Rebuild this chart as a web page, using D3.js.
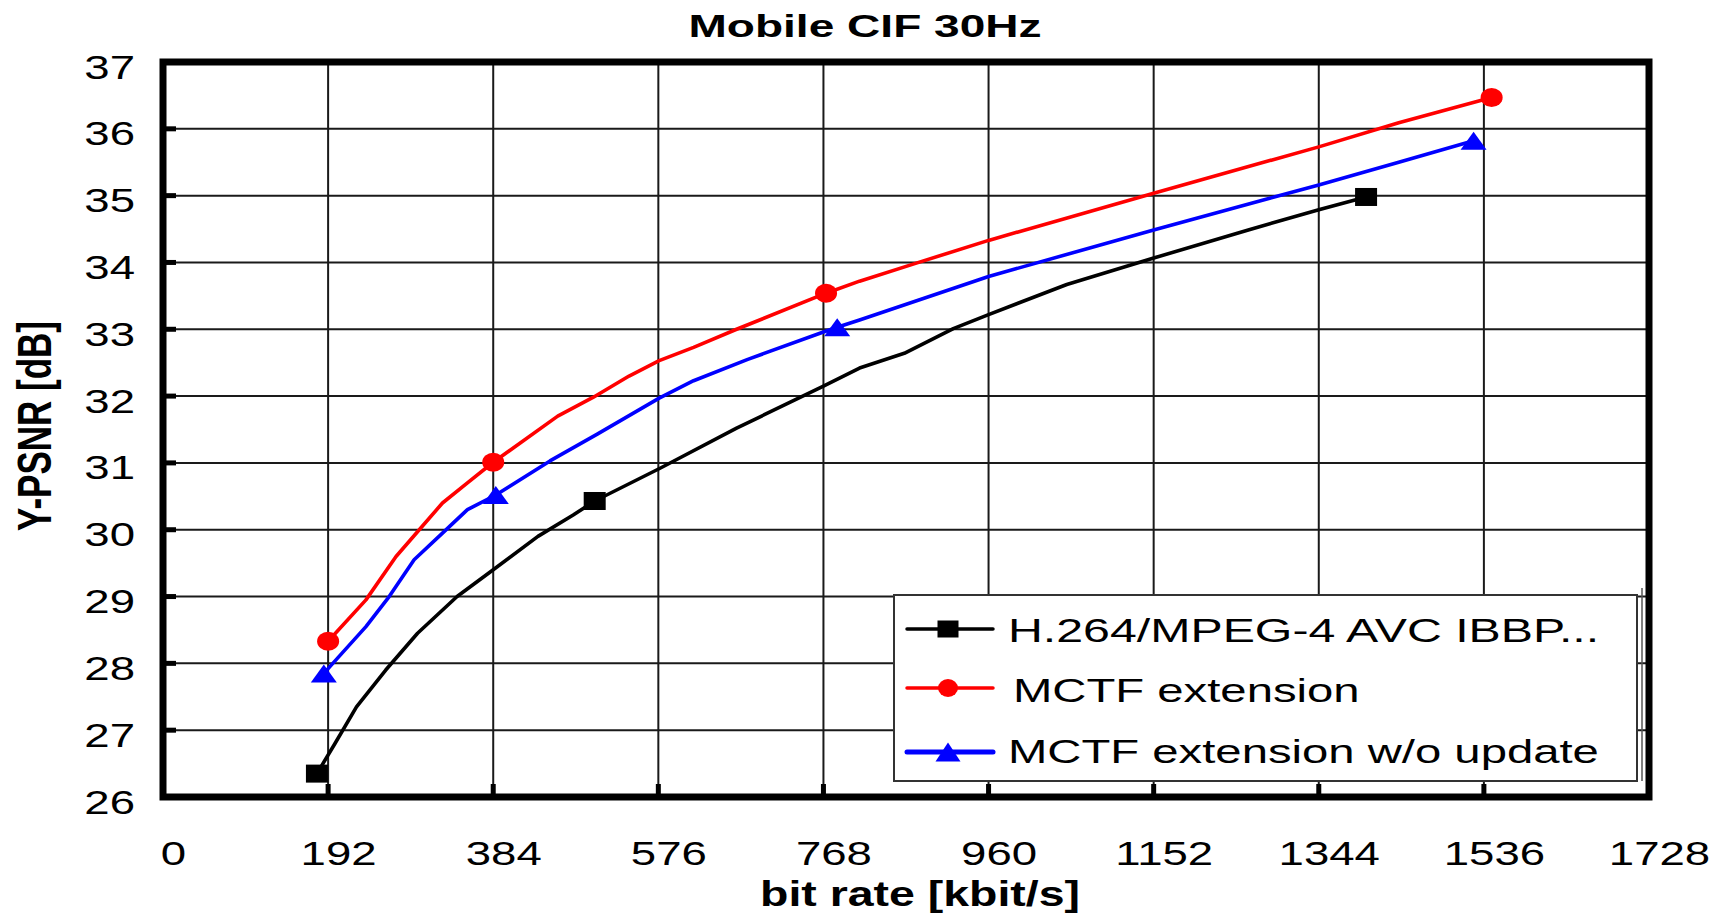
<!DOCTYPE html>
<html>
<head>
<meta charset="utf-8">
<script src="https://cdn.jsdelivr.net/npm/d3@7"></script>
<style>
  html, body { margin: 0; padding: 0; background: #fff; }
  svg { display: block; }
  text { font-family: "Liberation Sans", Arial, sans-serif; fill: #000; }
</style>
</head>
<body>
<svg id="chart" width="1726" height="916"></svg>
<script>
// ---------------- data ----------------
const chartTitle = "Mobile CIF 30Hz";
const xLabel = "bit rate [kbit/s]";
const yLabel = "Y-PSNR [dB]";
const xTicks = [0, 192, 384, 576, 768, 960, 1152, 1344, 1536, 1728];
const yTicks = [26, 27, 28, 29, 30, 31, 32, 33, 34, 35, 36, 37];
const seriesNames = ["H.264/MPEG-4 AVC IBBP...", "MCTF extension", "MCTF extension w/o update"];
const seriesColors = ["#000000", "#ff0000", "#0000ff"];
const seriesShapes = ["square", "circle", "triangle"];

// H.264/MPEG-4 AVC IBBP
const h264Rate = [179, 200, 225, 259, 296, 342, 384, 436, 477, 502, 578, 667, 768, 810, 862, 919, 960, 1051, 1153, 1263, 1344, 1399];
const h264Psnr = [26.35, 26.8, 27.35, 27.9, 28.45, 29.0, 29.4, 29.9, 30.22, 30.43, 30.92, 31.52, 32.15, 32.42, 32.64, 33.01, 33.22, 33.67, 34.07, 34.49, 34.79, 34.98];
const h264MarkRate = [179, 502, 1399];
const h264MarkPsnr = [26.35, 30.43, 34.98];

// MCTF extension
const mctfRate = [192, 236, 271, 300, 325, 354, 384, 459, 500, 542, 577, 617, 667, 771, 810, 876, 960, 1153, 1344, 1437, 1545];
const mctfPsnr = [28.33, 28.95, 29.6, 30.03, 30.4, 30.7, 31.01, 31.7, 31.98, 32.3, 32.53, 32.73, 33.0, 33.54, 33.72, 33.99, 34.33, 35.04, 35.73, 36.09, 36.47];
const mctfMarkRate = [192, 384, 771, 1545];
const mctfMarkPsnr = [28.33, 31.01, 33.54, 36.47];

// MCTF extension w/o update
const noUpdRate = [187, 236, 263, 292, 325, 354, 387, 450, 505, 577, 617, 680, 768, 784, 810, 960, 1153, 1344, 1437, 1524];
const noUpdPsnr = [27.85, 28.55, 29.0, 29.55, 29.95, 30.3, 30.52, 31.03, 31.43, 31.97, 32.23, 32.55, 32.96, 33.03, 33.14, 33.79, 34.49, 35.16, 35.5, 35.82];
const noUpdMarkRate = [187, 387, 784, 1524];
const noUpdMarkPsnr = [27.85, 30.52, 33.03, 35.82];

// ---------------- layout ----------------
const svg = d3.select("#chart");
const L = 163, R = 1649, T = 62, B = 797;
const SX = 1.34;                      // horizontal stretch of the original tick text
const legendStretch = [1.42, 1.39, 1.39];

const x = d3.scaleLinear().domain([0, 1728]).range([L, R]);
const y = d3.scaleLinear().domain([26, 37]).range([B, T]);

const series = [
  { name: seriesNames[0], color: seriesColors[0], shape: seriesShapes[0],
    pts: h264Rate.map((r, i) => [r, h264Psnr[i]]), marks: h264MarkRate.map((r, i) => [r, h264MarkPsnr[i]]) },
  { name: seriesNames[1], color: seriesColors[1], shape: seriesShapes[1],
    pts: mctfRate.map((r, i) => [r, mctfPsnr[i]]), marks: mctfMarkRate.map((r, i) => [r, mctfMarkPsnr[i]]) },
  { name: seriesNames[2], color: seriesColors[2], shape: seriesShapes[2],
    pts: noUpdRate.map((r, i) => [r, noUpdPsnr[i]]), marks: noUpdMarkRate.map((r, i) => [r, noUpdMarkPsnr[i]]) }
];

// grid
const innerX = xTicks.filter(v => v > 0 && v < 1728);
const innerY = yTicks.filter(v => v > 26 && v < 37);
svg.append("g").selectAll("line").data(innerX).join("line")
  .attr("x1", d => x(d)).attr("x2", d => x(d)).attr("y1", T).attr("y2", B)
  .attr("stroke", "#1a1a1a").attr("stroke-width", 2);
svg.append("g").selectAll("line").data(innerY).join("line")
  .attr("x1", L).attr("x2", R).attr("y1", d => y(d)).attr("y2", d => y(d))
  .attr("stroke", "#1a1a1a").attr("stroke-width", 2);

// tick stubs
svg.append("g").selectAll("line").data(innerY).join("line")
  .attr("x1", L).attr("x2", L + 13).attr("y1", d => y(d)).attr("y2", d => y(d))
  .attr("stroke", "#000").attr("stroke-width", 5);
svg.append("g").selectAll("line").data(innerX).join("line")
  .attr("x1", d => x(d)).attr("x2", d => x(d)).attr("y1", B).attr("y2", B - 13)
  .attr("stroke", "#000").attr("stroke-width", 5);

// axes labels via d3 axes
const xAxis = svg.append("g").attr("transform", `translate(0,${B})`)
  .call(d3.axisBottom(x).tickValues(xTicks).tickSize(0).tickFormat(d3.format("d")));
xAxis.select(".domain").remove();
xAxis.selectAll("text")
  .attr("y", 68).attr("dy", null).attr("x", 10 / SX)
  .attr("transform", `scale(${SX},1)`)
  .style("font-size", "34px").style("font-family", '"Liberation Sans", Arial, sans-serif')
  .attr("fill", "#000");

const yAxis = svg.append("g").attr("transform", `translate(${L},0)`)
  .call(d3.axisLeft(y).tickValues(yTicks).tickSize(0).tickFormat(d3.format("d")));
yAxis.select(".domain").remove();
yAxis.selectAll("text")
  .attr("x", -28 / SX).attr("y", 16).attr("dy", null)
  .attr("transform", `scale(${SX},1)`)
  .style("font-size", "34px").style("font-family", '"Liberation Sans", Arial, sans-serif')
  .attr("fill", "#000");

// lines
const line = d3.line().x(d => x(d[0])).y(d => y(d[1])).curve(d3.curveLinear);
series.forEach(s => {
  svg.append("path").datum(s.pts).attr("d", line)
    .attr("fill", "none").attr("stroke", s.color).attr("stroke-width", 3.6)
    .attr("stroke-linejoin", "round");
});

// markers
function drawMarker(g, shape, cx, cy, color, w, h) {
  if (shape === "square") {
    g.append("rect").attr("x", cx - w / 2).attr("y", cy - h / 2).attr("width", w).attr("height", h).attr("fill", color);
  } else if (shape === "circle") {
    g.append("ellipse").attr("cx", cx).attr("cy", cy).attr("rx", w / 2).attr("ry", h / 2).attr("fill", color);
  } else {
    g.append("path").attr("d", `M${cx - w / 2},${cy + h / 2}L${cx + w / 2},${cy + h / 2}L${cx},${cy - h / 2}Z`).attr("fill", color);
  }
}
const markSize = { square: [22, 18], circle: [22, 19], triangle: [26, 18] };
series.forEach(s => {
  const g = svg.append("g");
  s.marks.forEach(p => drawMarker(g, s.shape, x(p[0]), y(p[1]), s.color, markSize[s.shape][0], markSize[s.shape][1]));
});

// frame
svg.append("rect").attr("x", L).attr("y", T).attr("width", R - L).attr("height", B - T)
  .attr("fill", "none").attr("stroke", "#000").attr("stroke-width", 7);

// legend
const lg = svg.append("g");
lg.append("line").attr("x1", 1642).attr("x2", 1642).attr("y1", 588).attr("y2", 781)
  .attr("stroke", "#555").attr("stroke-width", 1.5);
lg.append("rect").attr("x", 894).attr("y", 595).attr("width", 743).attr("height", 186)
  .attr("fill", "#fff").attr("stroke", "#333").attr("stroke-width", 2);
const rowLineY = [629, 688, 752];
const rowTextY = [642, 702, 763];
const rowTextX = [1008, 1013, 1008];
const legMark = { square: [21, 17], circle: [20, 18], triangle: [25, 19] };
series.forEach((s, i) => {
  lg.append("line").attr("x1", 907).attr("x2", 993).attr("y1", rowLineY[i]).attr("y2", rowLineY[i])
    .attr("stroke", s.color).attr("stroke-width", i === 2 ? 5 : 3.5).attr("stroke-linecap", "round");
  drawMarker(lg, s.shape, 948, rowLineY[i], s.color, legMark[s.shape][0], legMark[s.shape][1]);
  lg.append("text").attr("transform", `translate(${rowTextX[i]},${rowTextY[i]}) scale(${legendStretch[i]},1)`)
    .style("font-size", "34px").text(s.name);
});

// title and axis titles
svg.append("text").attr("transform", `translate(865,37) scale(1.44,1)`)
  .attr("text-anchor", "middle").style("font-size", "32px").style("font-weight", "bold").text(chartTitle);
svg.append("text").attr("transform", `translate(920,906) scale(1.29,1)`)
  .attr("text-anchor", "middle").style("font-size", "36px").style("font-weight", "bold").text(xLabel);
svg.append("text").attr("transform", `translate(51,426) scale(1.36,1) rotate(-90)`)
  .attr("text-anchor", "middle").style("font-size", "35px").style("font-weight", "bold").text(yLabel);
</script>
</body>
</html>
